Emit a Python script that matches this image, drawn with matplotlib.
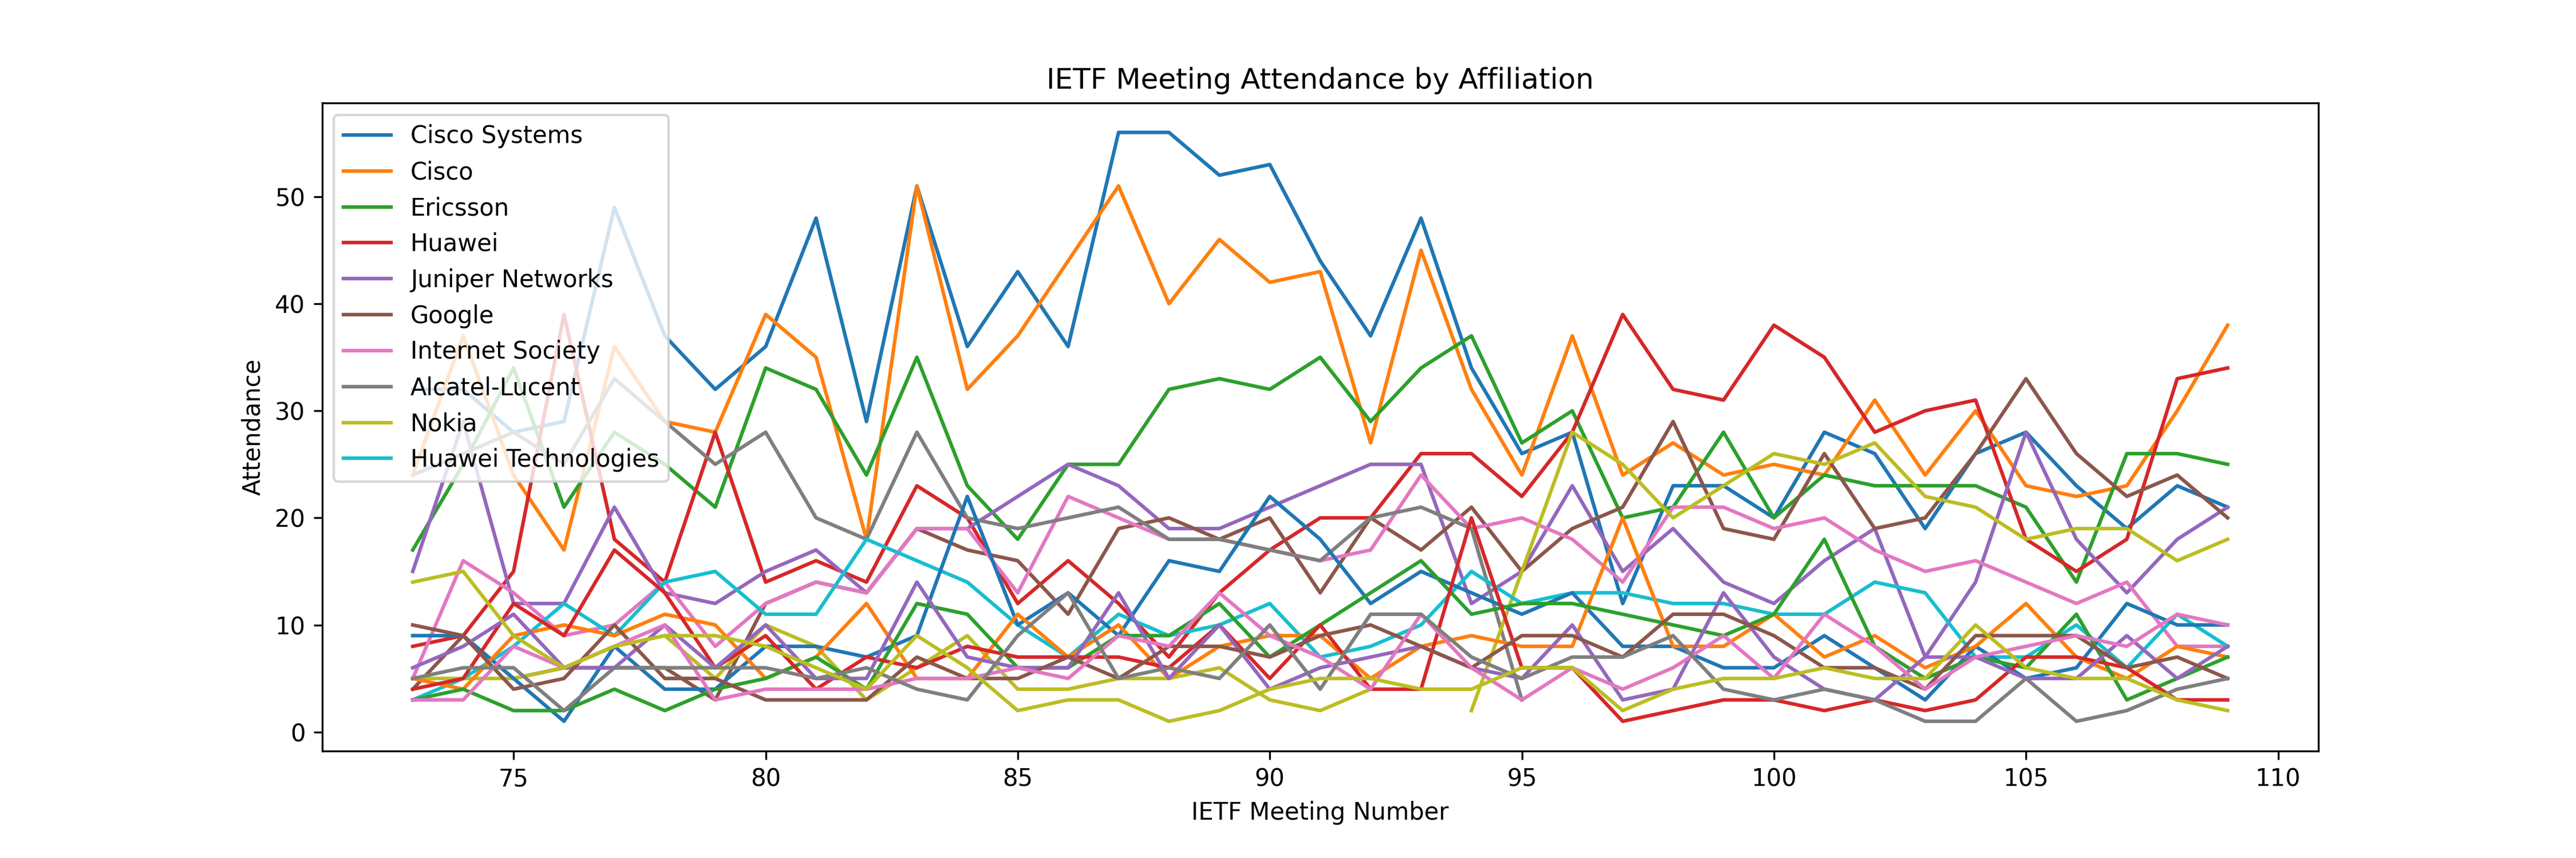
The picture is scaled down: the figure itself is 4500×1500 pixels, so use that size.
import numpy as np
import matplotlib
matplotlib.use("Agg")
import matplotlib.pyplot as plt

nan = np.nan
meetings = list(range(73, 110))

# Main (labelled) series
cisco_systems = [32,32,28,29,49,37,32,36,48,29, 51,36,43,36,56,56,52,53,44,37,
                 48,34,26,28,12,23,23,20,28,26, 19,26,28,23,19,23,21]
cisco = [24,37,24,17,36,29,28,39,35,18, 51,32,37,44,51,40,46,42,43,27,
         45,32,24,37,24,27,24,25,24,31, 24,30,23,22,23,30,38]
ericsson = [17,25,34,21,28,25,21,34,32,24, 35,23,18,25,25,32,33,32,35,29,
            34,37,27,30,20,21,28,20,24,23, 23,23,21,14,26,26,25]
huawei = [8,9,15,39,18,14,28,14,16,14, 23,20,12,16,12,7,13,17,20,20,
          26,26,22,28,39,32,31,38,35,28, 30,31,18,15,18,33,34]
juniper = [15,29,12,12,21,13,12,15,17,13, 19,19,22,25,23,19,19,21,23,25,
           25,12,15,23,15,19,14,12,16,19, 7,14,28,18,13,18,21]
google = [4,9,5,6,6,6,3,12,14,13, 19,17,16,11,19,20,18,20,13,20,
          17,21,15,19,21,29,19,18,26,19, 20,26,33,26,22,24,20]
isoc = [5,16,13,9,10,14,8,12,14,13, 19,19,13,22,20,18,18,17,16,17,
        24,19,20,18,14,21,21,19,20,17, 15,16,14,12,14,8,8]
alcatel = [24,26,28,25,33,29,25,28,20,18, 28,20,19,20,21,18,18,17,16,20,
           21,19,3] + [nan] * 14
nokia = [5,5,5,6,8,9,5,10,8,3, 6,9,4,4,5,5,6,3,2,4,
         nan,2,15,28,25,20,23,26,25,27, 22,21,18,19,19,16,18]
huawei_tech = [3,5,8,12,9,14,15,11,11,18, 16,14,10,7,11,9,10,12,7,8,
               10,15,12,13,13,12,12,11,11,14, 13,7,7,10,6,11,8]

# Further (unlabelled) series
series_11 = [9,9,5,1,8,4,4,8,8,7, 9,22,10,13,9,16,15,22,18,12,
             15,13,11,13,8,8,6,6,9,6, 3,8,5,6,12,10,10]
series_12 = [5,4,9,10,9,11,10,5,7,12, 5,5,11,7,10,5,8,9,9,5,
             8,9,8,8,20,8,8,11,7,9, 6,8,12,7,5,8,7]
series_13 = [3,4,2,2,4,2,4,5,7,4, 12,11,6,6,9,9,12,7,10,13,
             16,11,12,12,11,10,9,11,18,8, 5,7,6,11,3,5,7]
series_14 = [4,5,12,9,17,13,6,9,4,7, 6,8,7,7,7,6,10,5,10,4,
             4,20,6,6,1,2,3,3,2,3, 2,3,7,7,6,3,3]
series_15 = [6,8,11,6,6,10,6,10,5,5, 14,7,6,6,13,5,10,4,6,7,
             8,6,5,10,3,4,13,7,4,3, 7,7,5,5,9,5,8]
series_16 = [10,9,4,5,10,5,5,3,3,3, 7,5,5,7,5,8,8,7,9,10,
             8,6,9,9,7,11,11,9,6,6, 4,9,9,9,6,7,5]
series_17 = [3,3,8,6,8,10,3,4,4,4, 5,5,6,5,9,8,13,9,7,4,
             11,6,3,6,4,6,9,5,11,8, 4,7,8,9,8,11,10]
series_18 = [5,6,6,2,6,6,6,6,5,6, 4,3,9,13,5,6,5,10,4,11,
             11,7,5,7,7,9,4,3,4,3, 1,1,5,1,2,4,5]
series_19 = [14,15,9,6,8,9,9,8,6,4, 9,6,2,3,3,1,2,4,5,5,
             4,4,6,6,2,4,5,5,6,5, 5,10,6,5,5,3,2]

labels = ["Cisco Systems", "Cisco", "Ericsson", "Huawei", "Juniper Networks",
          "Google", "Internet Society", "Alcatel-Lucent", "Nokia",
          "Huawei Technologies"]
main_series = [cisco_systems, cisco, ericsson, huawei, juniper, google, isoc,
               alcatel, nokia, huawei_tech]
extra_series = [series_11, series_12, series_13, series_14, series_15,
                series_16, series_17, series_18, series_19]

fig, ax = plt.subplots(figsize=(15, 5), dpi=300)
fig.subplots_adjust(left=0.125, right=0.9, bottom=0.125, top=0.88)
for name, vals in zip(labels, main_series):
    ax.plot(meetings, vals, label=name)
for vals in extra_series:
    ax.plot(meetings, vals, label="_nolegend_")

ax.set_title("IETF Meeting Attendance by Affiliation")
ax.set_xlabel("IETF Meeting Number")
ax.set_ylabel("Attendance")
ax.legend(loc="upper left")
fig.savefig("out.png", dpi=300)
